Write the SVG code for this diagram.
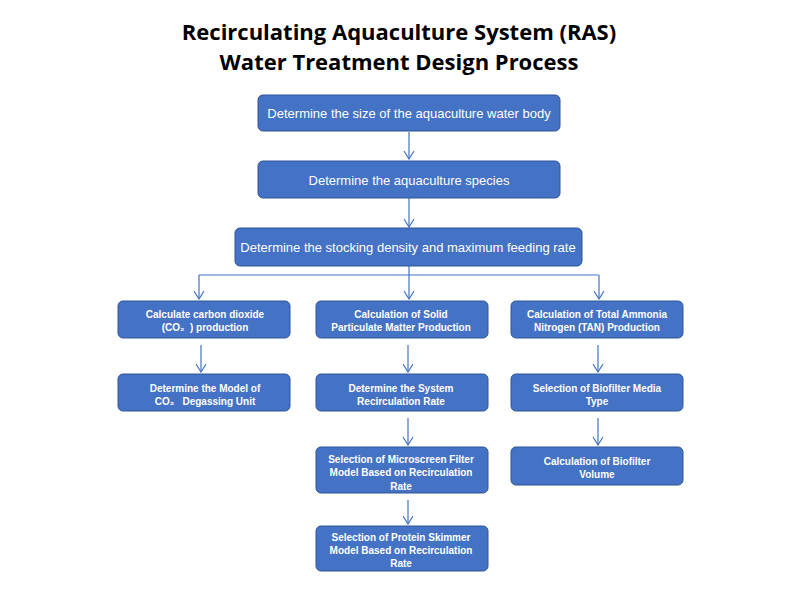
<svg xmlns="http://www.w3.org/2000/svg" width="800" height="600" viewBox="0 0 800 600">
<defs>
<marker id="arr" viewBox="0 0 10 12" refX="9" refY="6" markerWidth="10" markerHeight="12" markerUnits="userSpaceOnUse" orient="auto">
<path d="M1,1 L9,6 L1,11" fill="none" stroke="#4472C4" stroke-width="1.2"/>
</marker>
<style>
.box{fill:#4472C4;stroke:#2F5597;stroke-width:1}
.t{font-family:"Liberation Sans",Arial,sans-serif;fill:#fff;text-anchor:middle}
.big{font-size:13px}
.sm{font-size:10px;font-weight:bold}
.title{font-family:"Open Sans","Noto Sans","Liberation Sans",sans-serif;font-weight:bold;font-size:22px;fill:#000;text-anchor:middle}
.c{fill:none;stroke:#4472C4;stroke-width:1.2}
</style>
</defs>
<rect width="800" height="600" fill="#fff"/>
<g id="title">
<text class="title" x="399" y="40">Recirculating Aquaculture System (RAS)</text>
<text class="title" x="399" y="70">Water Treatment Design Process</text>
</g>
<g id="connectors">
<path class="c" d="M409,132 V159" marker-end="url(#arr)"/>
<path class="c" d="M409,198 V227" marker-end="url(#arr)"/>
<path class="c" d="M409,266 V299" marker-end="url(#arr)"/>
<path class="c" d="M199,275 H599"/>
<path class="c" d="M199,275 V299" marker-end="url(#arr)"/>
<path class="c" d="M599,275 V299" marker-end="url(#arr)"/>
<path class="c" d="M201,345 V372" marker-end="url(#arr)"/>
<path class="c" d="M408,345 V372" marker-end="url(#arr)"/>
<path class="c" d="M598,345 V372" marker-end="url(#arr)"/>
<path class="c" d="M408,418 V445" marker-end="url(#arr)"/>
<path class="c" d="M598,418 V445" marker-end="url(#arr)"/>
<path class="c" d="M408,500 V524" marker-end="url(#arr)"/>
</g>
<g id="n1"><rect class="box" x="258" y="95" width="302" height="36" rx="5"/><text class="t big" x="409" y="118">Determine the size of the aquaculture water body</text></g>
<g id="n2"><rect class="box" x="258" y="161" width="302" height="37" rx="5"/><text class="t big" x="409" y="185">Determine the aquaculture species</text></g>
<g id="n3"><rect class="box" x="235" y="228" width="347" height="38" rx="5"/><text class="t big" x="408" y="252">Determine the stocking density and maximum feeding rate</text></g>
<g id="n4"><rect class="box" x="118" y="301" width="172" height="37" rx="5"/><text class="t sm" x="205" y="318">Calculate carbon dioxide</text><text class="t sm" x="205" y="331">(CO₂&#160;&#160;) production</text></g>
<g id="n5"><rect class="box" x="316" y="301" width="172" height="37" rx="5"/><text class="t sm" x="401" y="318">Calculation of Solid</text><text class="t sm" x="401" y="331">Particulate Matter Production</text></g>
<g id="n6"><rect class="box" x="511" y="301" width="172" height="37" rx="5"/><text class="t sm" x="597" y="318">Calculation of Total Ammonia</text><text class="t sm" x="597" y="331">Nitrogen (TAN) Production</text></g>
<g id="n7"><rect class="box" x="118" y="374" width="172" height="37" rx="5"/><text class="t sm" x="205" y="392">Determine the Model of</text><text class="t sm" x="205" y="405">CO₂&#160;&#160;&#160;Degassing Unit</text></g>
<g id="n8"><rect class="box" x="316" y="374" width="172" height="37" rx="5"/><text class="t sm" x="401" y="392">Determine the System</text><text class="t sm" x="401" y="405">Recirculation Rate</text></g>
<g id="n9"><rect class="box" x="511" y="374" width="172" height="37" rx="5"/><text class="t sm" x="597" y="392">Selection of Biofilter Media</text><text class="t sm" x="597" y="405">Type</text></g>
<g id="n10"><rect class="box" x="316" y="447" width="172" height="46" rx="5"/><text class="t sm" x="401" y="463">Selection of Microscreen Filter</text><text class="t sm" x="401" y="476">Model Based on Recirculation</text><text class="t sm" x="401" y="490">Rate</text></g>
<g id="n11"><rect class="box" x="511" y="447" width="172" height="38" rx="5"/><text class="t sm" x="597" y="465">Calculation of Biofilter</text><text class="t sm" x="597" y="478">Volume</text></g>
<g id="n12"><rect class="box" x="316" y="526" width="172" height="45" rx="5"/><text class="t sm" x="401" y="541">Selection of Protein Skimmer</text><text class="t sm" x="401" y="554">Model Based on Recirculation</text><text class="t sm" x="401" y="567">Rate</text></g>
</svg>
